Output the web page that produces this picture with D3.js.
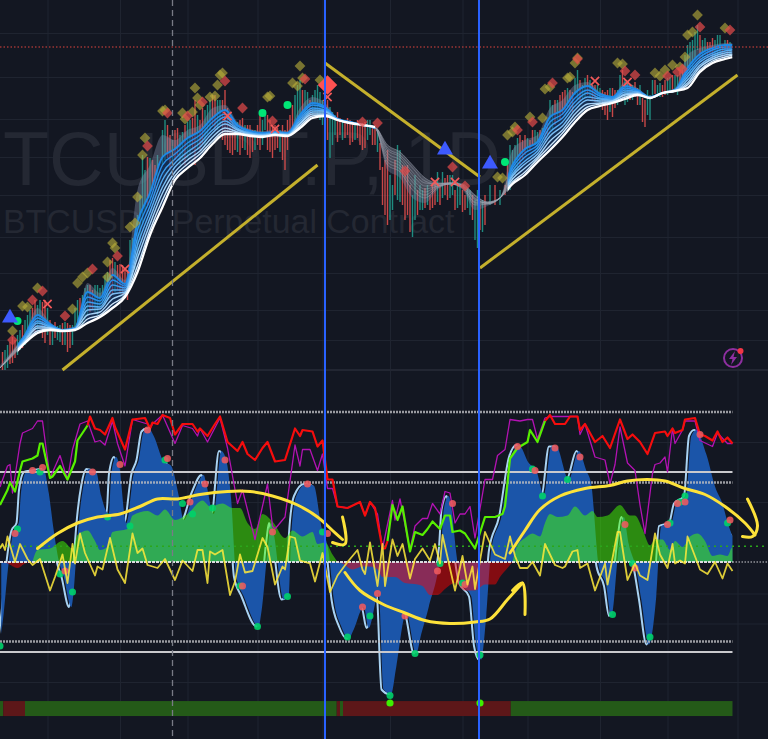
<!DOCTYPE html>
<html><head><meta charset="utf-8">
<script src="https://cdn.jsdelivr.net/npm/d3@7"></script>
<style>html,body{margin:0;padding:0;background:#131722;overflow:hidden}svg{display:block}</style>
</head><body><div id="chart"></div>
<script>
// ---------- text ----------
const symbolTitle = "TCUSDT.P, 1D";
const symbolSubtitle = "BTCUSDT Perpetual Contract";

// ---------- grid / levels ----------
const gridBars = [19,48,75,103,129,156,185,211,240,267,295];
const gridPrices = [537,493,451,413,375,333,297,260,230,200];
const gridOsc = [80,40,-21,-41,-80];
const lastPrice = 523;
const verticalBars = [130,191.6];
const cursorBar = 69;
const levelsDashed = [100,53,-53];
const levelsSolid = [60,-60];
const flowZero = 10.5;

// ---------- ribbon (EMA stack), prices in $100, one value per ribbonBars entry ----------
const ribbonBars = [...d3.range(0,295,5),293];
const emaCloud = [205,220,237,262,248,241,244,287,277,302,290,380,405,435,430,440,445,462,465,448,441,439,440,439,462,473,467,452,448,445,442,400,392,372,367,380,386,380,360,364,372,420,430,435,462,470,485,488,478,474,488,482,474,478,482,515,522,525,527,527];
const ema0 = [202,218,235,255,246,240,242,278,272,295,286,348,377,413,421,432,439,452,460,445,439,437,438,437,455,467,463,451,448,445,442,405,398,380,372,382,386,382,365,366,372,405,421,428,453,460,477,484,476,473,484,480,473,477,480,502,516,522,525,525];
const ema1 = [202,217,234,252,245,240,242,273,269,290,284,340,370,405,416,427,435,448,456,444,438,436,438,437,453,465,462,451,448,445,442,408,401,384,375,383,386,383,367,366,372,402,417,425,448,456,472,480,474,472,482,479,473,477,480,499,513,520,523,523];
const ema2 = [202,217,233,249,244,240,241,268,266,285,282,332,364,397,411,423,431,444,453,442,437,436,437,436,451,462,460,451,448,445,442,411,404,388,378,384,386,383,368,367,372,399,413,422,443,452,468,477,472,471,480,478,473,477,480,496,510,517,521,521];
const ema3 = [202,216,231,247,243,240,241,264,263,280,280,325,358,390,407,418,427,440,449,441,437,435,437,436,449,460,459,451,447,445,442,414,407,391,381,384,386,384,370,367,372,396,409,419,438,448,464,473,471,470,478,478,473,477,480,493,508,515,519,520];
const ema4 = [202,216,230,244,242,239,241,260,261,276,278,318,352,383,403,414,423,437,446,440,436,435,436,435,447,458,458,450,447,445,443,417,410,395,384,385,387,384,371,367,372,394,406,416,434,444,460,470,469,469,476,477,472,477,479,490,505,513,517,518];
const ema5 = [202,215,229,242,242,239,241,255,258,271,277,312,346,377,398,410,419,433,442,438,435,434,436,435,446,456,456,450,447,445,443,420,413,398,387,386,387,385,372,367,372,391,402,413,429,440,456,466,467,469,475,476,472,477,479,487,503,511,515,516];
const ema6 = [202,215,228,239,241,239,240,251,255,266,275,304,340,370,394,406,416,429,439,437,435,434,435,434,444,454,455,450,447,445,443,422,415,402,389,386,387,385,374,368,372,388,398,411,424,437,452,463,466,468,473,476,472,477,479,485,500,509,513,515];
const ema7 = [202,214,227,237,240,239,240,247,253,262,273,298,335,363,390,402,412,426,436,436,434,433,435,434,442,452,454,450,447,445,443,425,418,405,392,387,387,386,375,368,372,386,395,408,420,433,448,460,464,467,471,475,472,477,479,482,498,507,511,513];
const downRanges = [[0,7],[150,203]];
const upRanges = [[7,150],[203,293]];
const ribbonShades = ["#1e88e5","#2a90ec","#3c9cef","#58acf1","#7cbef4","#a4d2f7","#cee7fb","#ffffff"];

// ---------- candles: [bar, high, low, up] ----------
const candles = [[1,218,200,0],[3,225,202,1],[5,233,207,0],[6,230,212,0],[8,240,220,1],[10,250,225,1],[12,260,235,1],[14,270,235,0],[16,270,245,1],[18,270,227,0],[20,250,225,0],[21,245,225,1],[23,244,230,1],[25,247,225,0],[27,247,218,0],[29,245,225,1],[31,270,242,1],[33,275,245,1],[35,285,255,1],[37,280,260,0],[39,285,255,1],[41,285,265,1],[43,298,270,1],[45,312,275,0],[47,305,280,0],[49,305,275,0],[51,300,270,0],[52,330,285,1],[54,335,300,1],[56,375,330,1],[57,415,345,1],[59,413,365,0],[61,410,380,0],[63,415,390,1],[66,450,410,1],[68,435,400,0],[70,440,410,0],[72,435,405,1],[74,445,405,0],[76,450,415,1],[78,470,405,0],[80,450,420,0],[82,460,425,1],[84,470,440,1],[86,475,440,0],[88,470,445,1],[90,480,425,0],[92,453,417,0],[94,445,420,0],[96,450,415,0],[98,445,420,1],[100,445,412,0],[102,440,420,1],[104,455,420,0],[106,460,440,1],[107,455,420,0],[109,445,412,0],[111,442,422,0],[114,440,400,0],[116,455,435,0],[118,475,445,1],[120,490,450,1],[122,480,455,1],[125,475,455,1],[127,485,455,1],[129,470,445,1],[132,463,412,1],[134,455,435,1],[136,452,435,0],[138,450,432,0],[140,450,425,0],[142,448,430,1],[144,445,425,0],[146,448,422,0],[148,450,435,1],[150,445,425,0],[152,427,400,0],[153,403,365,0],[155,420,345,0],[157,385,360,1],[159,425,370,1],[161,405,365,0],[163,405,355,0],[165,375,333,1],[167,380,355,0],[169,380,360,1],[172,375,360,0],[174,390,365,0],[177,398,372,1],[179,395,370,0],[181,395,375,1],[182,380,360,0],[184,385,365,1],[186,375,360,0],[188,380,355,1],[190,370,330,1],[191,380,322,1],[192,365,340,0],[194,375,345,0],[196,385,365,1],[198,385,365,0],[200,380,365,1],[202,385,375,0],[204,425,380,1],[206,425,395,1],[208,435,405,0],[210,435,415,0],[212,430,420,0],[214,440,425,1],[216,440,420,0],[218,445,430,0],[220,470,440,1],[222,470,445,0],[224,475,450,0],[226,480,460,0],[228,480,460,0],[230,492,475,1],[231,500,470,1],[233,485,470,1],[235,495,475,0],[237,485,470,0],[239,485,470,1],[241,480,460,0],[243,480,450,0],[245,482,453,0],[247,480,465,1],[249,500,480,0],[250,490,465,1],[252,485,470,0],[254,488,473,0],[256,485,465,1],[258,470,443,0],[260,475,450,1],[261,490,475,1],[263,485,473,1],[265,485,473,0],[267,492,475,1],[269,495,478,0],[271,495,475,1],[273,500,482,0],[275,525,490,1],[277,530,500,1],[279,545,520,1],[280,535,510,0],[282,532,515,1],[284,528,515,0],[286,530,510,1],[288,535,515,1],[289,525,513,0],[290,530,520,1],[292,528,515,1],
[135,458,428,0],[137,448,430,1],[139,452,435,0],[141,445,428,0],[143,450,432,0],[145,447,420,0],[147,450,430,1],[149,442,425,0],[151,440,418,1],[154,410,355,0],[156,395,350,1],[158,410,375,0],[160,420,368,1],[162,395,350,0],[164,385,338,0],[166,395,350,1],[168,385,360,1],[170,382,362,0],[171,385,365,1],[173,385,362,0],[175,398,368,1],[176,385,365,0],[178,392,375,0],[180,395,372,1],[183,388,362,1],[185,380,358,0],[187,382,362,1],[189,375,350,0],[193,370,338,1],
[58,400,360,1],[60,412,372,1],[62,405,382,0],[65,440,405,1],[67,445,412,0],[69,430,405,1],[71,442,415,0],[73,438,410,1],[75,448,412,1],[77,452,420,0],[79,455,420,1],[81,462,425,0],[83,465,435,1],[85,475,445,0],[87,470,440,1],[89,470,430,0],[91,462,420,0],[93,450,415,0],[95,448,418,1],[97,452,422,0],[99,445,415,0],[101,440,418,0],[103,445,425,0],[105,450,425,1],[108,450,418,0],[110,445,420,0],[112,440,418,1],[113,445,410,0],[115,450,420,0],
[203,405,382,0],[205,420,385,1],[207,432,400,1],[209,430,410,0],[211,432,418,1],[213,440,425,0],[215,438,420,1],[217,442,428,1],[219,450,435,0],[221,465,440,1],[223,470,450,1],[225,478,455,0],[227,482,462,1],[229,478,458,0],[232,490,470,0],[234,492,472,1],[236,490,472,1],[238,485,468,0],[240,482,465,1],[242,478,455,0],[244,482,458,1],[246,480,462,0],[248,495,470,1],[251,488,468,1],[253,485,470,1],[255,482,465,0],[257,472,448,0],[259,480,455,1],
[2,220,200,1],[4,228,206,0],[7,235,215,1],[9,245,222,0],[11,255,228,1],[13,262,238,0],[15,265,240,1],[17,268,232,0],[19,262,235,1],[22,248,232,0],[24,245,228,1],[26,248,225,1],[28,245,222,0],[30,262,240,1],[32,272,245,0],[34,282,250,1],[36,285,258,0],[38,285,258,1],[40,282,262,1],[42,295,265,1],[44,310,272,0],[46,308,278,1],[48,306,278,0],[50,302,272,0],[53,332,290,1],[55,355,310,1],
[262,490,476,0],[264,487,473,1],[266,490,475,0],[268,493,477,1],[270,495,478,1],[272,498,480,0],[274,515,485,1],[276,528,495,1],[278,538,510,1],[281,530,512,1],[283,528,513,0],[285,532,512,0],[287,535,514,1],[291,530,515,0],[117,465,440,0],[119,485,450,1],[121,480,452,0],[123,478,455,1],[124,470,452,0],[126,480,458,1],[128,478,450,1],[130,468,440,1],[131,470,430,0],[133,458,425,1]];

// ---------- price pane markers: [bar, price] ----------
const oliveDiamonds = [[5,239],[9,264],[11,263],[15,282],[29,261],[31,287],[33,293],[35,297],[43,293],[43,308],[45,327],[46,322],[52,343],[54,347],[55,373],[57,415],[58,432],[65,459],[66,460],[73,457],[74,451],[77,458],[78,482],[79,472],[80,465],[84,473],[86,474],[87,485],[89,497],[88,495],[107,473],[108,474],[117,487],[119,484],[121,492],[120,504],[128,490],[199,393],[201,392],[203,435],[205,438],[206,443],[212,453],[217,452],[218,481],[220,483],[227,492],[228,493],[230,507],[231,512],[247,507],[249,506],[262,497],[264,494],[266,500],[269,505],[272,503],[274,513],[275,535],[277,538],[279,555],[290,542]];
const redDiamonds = [[5,230],[13,270],[17,279],[26,254],[37,301],[47,314],[59,424],[67,457],[75,454],[81,468],[90,489],[97,462],[109,449],[122,491],[145,448],[151,447],[162,399],[181,403],[186,384],[207,440],[213,448],[221,487],[231,511],[250,499],[254,495],[267,494],[271,498],[273,501],[280,543],[292,540]];
const bigDiamond = [[131,485]];
const crossMarks = [[19,266],[50,301],[91,454],[110,441],[131,473],[174,388],[182,388],[238,489],[251,488]];
const greenMarks = [[7,249],[105,457],[115,465],[202,408]];
const triangleMarks = [[4,252],[178,420],[196,406]];
// trend lines [[bar,price],[bar,price]]
const trendLines = [[[25,200],[127,405]],[[130,507],[192,393]],[[192,302],[295,495]]];

// ---------- oscillator pane: [bar, value] ----------
const wave = [[0,-48],[1,-34],[3,0],[5,21],[7,26],[8,48],[10,60],[13,61],[17,62],[19,46],[21,21],[23,1],[25,-10],[28,-30],[29,-19],[30,4],[31,26],[33,52],[35,62],[38,60],[40,44],[43,32],[44,59],[46,70],[47,66],[50,26],[53,59],[55,68],[57,87],[59,89],[61,84],[65,67],[68,64],[71,44],[73,28],[77,46],[81,58],[82,52],[85,32],[88,74],[90,68],[92,41],[94,-10],[97,-23],[103,-43],[104,-34],[107,15],[108,26],[109,19],[113,-25],[115,-23],[116,19],[118,44],[122,52],[125,51],[128,24],[131,6],[133,-25],[136,-43],[139,-51],[141,-45],[145,-30],[147,-44],[151,-21],[153,-85],[156,-88],[158,-70],[162,-34],[166,-61],[168,-48],[171,-30],[176,10],[177,35],[179,44],[180,37],[182,6],[184,-14],[188,-23],[190,-56],[192,-65],[194,-36],[196,8],[200,30],[204,70],[207,78],[211,66],[214,61],[217,45],[220,77],[222,77],[227,55],[231,74],[234,61],[236,52],[239,-3],[242,-16],[244,-36],[247,10],[249,30],[251,12],[254,-5],[256,-25],[259,-55],[262,-23],[264,24],[268,26],[270,39],[274,44],[276,84],[278,88],[282,72],[286,48],[288,41],[291,24],[293,17]];
const signal = [[0,9],[1,12],[2,8],[3,17],[6,0],[8,12],[11,2],[13,-2],[16,2],[20,-19],[22,-10],[25,5],[27,-14],[29,12],[30,-1],[32,19],[34,6],[38,-9],[39,-3],[41,-5],[44,16],[47,-5],[50,-14],[53,19],[55,6],[57,9],[59,-2],[63,-4],[66,2],[70,-12],[73,1],[77,-6],[79,8],[81,8],[83,-14],[84,7],[86,5],[89,8],[92,-22],[94,-13],[96,5],[98,-7],[101,-6],[105,16],[107,10],[110,-15],[113,-3],[114,-5],[116,17],[118,16],[120,1],[124,-1],[126,-13],[129,6],[132,-20],[135,-9],[139,0],[143,8],[145,-5],[146,-8],[148,13],[151,-16],[153,12],[154,-16],[157,15],[159,4],[161,12],[164,-11],[166,2],[169,9],[172,1],[174,12],[176,-1],[177,18],[182,-19],[185,4],[187,-15],[189,-3],[190,-18],[194,20],[198,5],[202,2],[204,17],[206,4],[208,-4],[211,-4],[213,0],[216,-9],[218,12],[222,-2],[225,-4],[226,-3],[229,7],[231,8],[232,-4],[235,-1],[238,-19],[242,-1],[243,-15],[247,20],[248,20],[251,-12],[254,-1],[256,-9],[259,-12],[262,19],[264,5],[267,-4],[269,12],[270,-1],[272,1],[274,-1],[275,17],[280,-5],[283,-8],[286,0],[289,-11],[291,-1],[293,-6]];
const rsiGreenA = [[0,38],[3,48],[4,53],[6,47],[8,61],[9,67],[13,69],[15,71],[16,79],[17,79],[20,56],[21,57],[24,64],[27,55],[30,67],[31,81],[35,91]];
const rsiRedA = [[35,91],[36,97],[38,89],[40,88],[42,85],[45,96],[46,90],[50,75],[53,95],[58,96],[60,89],[61,93],[63,92],[65,98],[68,96],[70,85],[73,92],[77,92],[79,87],[80,89],[83,84],[86,92],[88,97],[91,80],[95,74],[97,80],[99,72],[102,68],[105,76],[107,80],[110,67],[114,68],[118,89],[120,84],[121,88],[125,87],[127,77],[129,81],[131,55],[133,55],[135,37],[139,36],[144,40],[146,31],[148,40],[150,36],[153,9],[154,9],[155,14]];
const rsiGreenB = [[155,14],[157,38],[159,28],[161,37],[164,7],[166,20],[169,18],[171,22],[173,27],[176,22],[178,31],[180,31],[181,20],[184,21],[186,19],[190,9],[194,30],[198,30],[201,32],[202,37],[204,69],[207,76],[211,80],[212,88],[215,80],[218,94]];
const rsiRedB = [[218,94],[220,98],[222,92],[226,92],[228,97],[231,97],[232,88],[234,92],[238,80],[241,84],[244,76],[248,95],[251,82],[253,85],[256,80],[259,72],[262,86],[266,87],[267,84],[269,89],[270,86],[273,88],[274,95],[278,96],[280,85],[282,84],[285,81],[287,87],[289,80],[291,83],[293,79]];
const stoch = [[0,50],[3,64],[4,65],[5,46],[8,79],[9,86],[13,89],[15,94],[17,94],[20,56],[24,71],[27,55],[29,75],[32,92],[35,94],[38,80],[40,81],[42,78],[45,94],[47,79],[50,64],[53,95],[59,92],[60,89],[61,92],[65,98],[70,79],[73,91],[77,89],[79,84],[80,89],[83,80],[88,96],[91,76],[95,39],[97,48],[102,15],[107,52],[109,24],[110,22],[114,30],[118,78],[120,64],[121,75],[124,75],[127,61],[129,72],[131,49],[133,49],[135,37],[139,36],[144,40],[146,31],[148,40],[151,32],[153,9],[157,41],[158,28],[160,42],[164,8],[166,24],[169,29],[171,29],[173,39],[176,32],[178,47],[180,46],[182,26],[184,32],[186,32],[188,37],[190,16],[194,55],[197,55],[199,71],[202,75],[204,95],[208,94],[211,95],[213,95],[215,82],[218,96],[220,97],[231,97],[232,85],[234,92],[238,70],[242,68],[244,52],[246,65],[248,90],[251,66],[254,61],[256,38],[258,19],[261,59],[262,65],[264,66],[266,70],[267,60],[269,89],[270,79],[273,88],[274,94],[278,94],[280,81],[285,77],[287,86],[291,79],[293,79]];
const flowGreenA = [[13,0],[15,8],[20,9],[25,14],[29,9],[31,18],[35,21],[38,14],[40,8],[43,10],[45,20],[51,22],[53,31],[59,34],[63,31],[66,35],[70,28],[75,32],[81,41],[84,37],[89,39],[93,36],[96,36],[99,26],[102,22],[105,32],[109,27],[114,16],[117,21],[121,17],[125,20],[127,12],[130,13],[133,5],[135,0]];
const flowGreenB = [[205,0],[207,11],[210,16],[213,19],[216,17],[218,26],[220,32],[223,30],[227,31],[230,37],[234,31],[237,34],[239,30],[243,31],[248,38],[252,31],[254,31],[257,22],[260,11],[262,15],[265,15],[268,8],[270,14],[273,10],[276,17],[279,19],[282,14],[285,4],[288,5],[291,4],[293,10],[293,0]];
const flowRedA = [[0,0],[3,-1],[7,-4],[10,-1],[13,0]];
const flowRedB = [[135,0],[137,-1],[141,-5],[145,-3],[148,-3],[151,-5],[153,-10],[158,-10],[162,-14],[167,-15],[169,-16],[172,-22],[175,-22],[178,-18],[182,-14],[186,-19],[190,-19],[194,-15],[198,-15],[200,-10],[203,-4],[205,0]];
const dotsRed = [[13,61],[17,63],[37,60],[48,65],[59,88],[67,69],[76,40],[82,52],[90,68],[97,-16],[109,20],[123,52],[131,19],[145,-30],[151,-21],[6,19],[26,-6],[162,-36],[175,-6],[181,39],[186,-15],[207,77],[214,61],[222,76],[232,70],[250,25],[254,-4],[267,25],[271,39],[274,40],[280,85],[292,28]];
const dotsGreen = [[0,-56],[7,22],[16,60],[24,-8],[29,-20],[43,30],[52,24],[66,68],[73,39],[77,32],[85,36],[96,-16],[103,-43],[115,-23],[129,20],[139,-50],[148,-36],[156,-89],[166,-61],[176,-1],[185,-14],[192,-62],[213,62],[217,44],[227,55],[245,-35],[253,-1],[260,-50],[268,26],[272,40],[274,44],[291,26]];
const dotsLime = [[156,-94],[192,-94]];
// state strip: [fromBar, toBar, state]
const stateStrip = [[0,1.3,1],[1.3,10,0],[10,134.7,1],[134.7,136,0],[136,137.2,1],[137.2,204.3,0],[204.3,293,1]];
const stripTop = -92.7, stripBottom = -102.7;
// hand-drawn annotations on the oscillator
const sketchA = [[15,9],[23,19],[31,26],[39,30],[48,32],[56,37],[63,42],[71,42],[80,45],[91,47],[100,47],[109,44],[119,38],[127,30],[133,21],[137,15]];
const sketchAHead = [[137,30],[138,12],[133,13]];
const sketchB = [[138,-7],[144,-19],[153,-28],[162,-34],[170,-39],[180,-41],[190,-40],[196,-38],[203,-25],[209,-14]];
const sketchBHead = [[205,-19],[209,-14],[210,-35]];
const sketchC = [[204,6],[210,21],[216,35],[224,44],[234,49],[244,51],[251,54],[259,55],[266,54],[274,49],[282,45],[290,37],[298,26],[302,18]];
const sketchCHead = [[299,42],[303,24],[301,17],[297,17]];

// ---------- scales ----------
const W = 768, H = 739;
const xBar = d3.scaleLinear().domain([0,307.2]).range([0,W]);
const yPrice = d3.scaleLinear().domain([570,200]).range([0,370]);
const yOsc = d3.scaleLinear().domain([100,-120]).range([412,742]);
const lastBar = 293;

const svg = d3.select("#chart").append("svg").attr("width",W).attr("height",H).attr("viewBox",[0,0,W,H]);
svg.append("rect").attr("width",W).attr("height",H).attr("fill","#131722");
const defs = svg.append("defs");
function clip(id, ranges){
  const c = defs.append("clipPath").attr("id",id);
  ranges.forEach(r=>c.append("rect").attr("x",xBar(r[0])).attr("width",xBar(r[1])-xBar(r[0])).attr("y",0).attr("height",370));
}
clip("upClip",upRanges); clip("downClip",downRanges);

// ---------- grid via axes ----------
const gridColor = "#1f2430";
function styleGrid(g){ g.selectAll(".domain").remove(); g.selectAll("text").remove(); g.selectAll("line").attr("stroke",gridColor).attr("stroke-width",1); }
svg.append("g").call(d3.axisBottom(xBar).tickValues(gridBars).tickSize(H).tickFormat("")).call(styleGrid);
svg.append("g").call(d3.axisRight(yPrice).tickValues(gridPrices).tickSize(W).tickFormat("")).call(styleGrid);
svg.append("g").call(d3.axisRight(yOsc).tickValues(gridOsc).tickSize(W).tickFormat("")).call(styleGrid);
svg.append("line").attr("x1",0).attr("x2",W).attr("y1",yPrice(200)).attr("y2",yPrice(200)).attr("stroke","#222632").attr("stroke-width",2);

// ---------- watermark ----------
svg.append("text").attr("x",3).attr("y",185).attr("font-family","Liberation Sans, Arial, sans-serif").attr("font-size",75.5).attr("fill","#242833").text(symbolTitle);
svg.append("text").attr("x",3).attr("y",233).attr("font-family","Liberation Sans, Arial, sans-serif").attr("font-size",33.9).attr("fill","#242833").text(symbolSubtitle);

// ---------- candles ----------
svg.append("g").selectAll("line").data(candles).join("line")
  .attr("x1",d=>xBar(d[0])).attr("x2",d=>xBar(d[0]))
  .attr("y1",d=>yPrice(d[1])).attr("y2",d=>yPrice(d[2]))
  .attr("stroke",d=>d[3]?"#22a091":"#e8504e").attr("stroke-width",1.4).attr("stroke-opacity",.85);

// ---------- ribbon ----------
const emaLines = [ema0,ema1,ema2,ema3,ema4,ema5,ema6,ema7];
const zipRow = arr => arr.map((v,i)=>[ribbonBars[i],v]);
const lineP = d3.line().x(d=>xBar(d[0])).y(d=>yPrice(d[1])).curve(d3.curveMonotoneX);
const bandPath = (a,b) => d3.area().x((v,i)=>xBar(ribbonBars[i])).y0((v,i)=>yPrice(b[i])).y1(v=>yPrice(v)).curve(d3.curveMonotoneX)(a);
const upG = svg.append("g").attr("clip-path","url(#upClip)");
const downG = svg.append("g").attr("clip-path","url(#downClip)");
upG.append("path").attr("d",bandPath(emaCloud,ema0)).attr("fill","#7f8aa8").attr("fill-opacity",.42);
downG.append("path").attr("d",bandPath(emaCloud,ema0)).attr("fill","#7f8aa8").attr("fill-opacity",.35);
for(let i=0;i<7;i++){
  upG.append("path").attr("d",bandPath(emaLines[i],emaLines[i+1])).attr("fill","#16407a").attr("fill-opacity",.55);
  downG.append("path").attr("d",bandPath(emaLines[i],emaLines[i+1])).attr("fill","#8a90a0").attr("fill-opacity",.42);
}
emaLines.forEach((arr,i)=>{
  upG.append("path").datum(zipRow(arr)).attr("d",lineP).attr("fill","none").attr("stroke",ribbonShades[i])
    .attr("stroke-width",i===0?2:i===7?2.3:1.4);
  downG.append("path").datum(zipRow(arr)).attr("d",lineP).attr("fill","none").attr("stroke","#a0a6b4").attr("stroke-opacity",.5).attr("stroke-width",1);
});

// ---------- markers ----------
const pX = d=>xBar(d[0]), pY = d=>yPrice(d[1]);
svg.append("g").selectAll("line").data(trendLines).join("line")
  .attr("x1",d=>xBar(d[0][0])).attr("y1",d=>yPrice(d[0][1])).attr("x2",d=>xBar(d[1][0])).attr("y2",d=>yPrice(d[1][1]))
  .attr("stroke","#c4b02c").attr("stroke-width",3);
function diamonds(data,size,fill,op){
  svg.append("g").selectAll("path").data(data).join("path")
    .attr("d",d3.symbol(d3.symbolSquare,size)).attr("transform",d=>`translate(${pX(d)},${pY(d)}) rotate(45)`)
    .attr("fill",fill).attr("fill-opacity",op);
}
diamonds(oliveDiamonds,58,"#b8ae3a",.62);
diamonds(redDiamonds,58,"#e04a4a",.72);
diamonds(bigDiamond,190,"#ff5252",1);
svg.append("g").selectAll("path").data(crossMarks).join("path")
  .attr("d",d3.symbol(d3.symbolX,46)).attr("transform",d=>`translate(${pX(d)},${pY(d)})`)
  .attr("fill","none").attr("stroke","#f45a5a").attr("stroke-width",1.7);
svg.append("g").selectAll("circle").data(greenMarks).join("circle")
  .attr("cx",pX).attr("cy",pY).attr("r",4).attr("fill","#00e676");
svg.append("g").selectAll("path").data(triangleMarks).join("path")
  .attr("d",d3.symbol(d3.symbolTriangle,110)).attr("transform",d=>`translate(${pX(d)},${pY(d)})`).attr("fill","#3d5afe");
svg.append("line").attr("x1",0).attr("x2",W).attr("y1",yPrice(lastPrice)).attr("y2",yPrice(lastPrice))
  .attr("stroke","#e0443e").attr("stroke-width",1).attr("stroke-dasharray","1.5 2");

// icon
const icon = svg.append("g").attr("transform","translate(733,358)");
icon.append("circle").attr("r",9).attr("fill","none").attr("stroke","#8e2fa0").attr("stroke-width",2);
icon.append("path").attr("d","M2,-7 L-4,1 L-0.5,1 L-2,7 L4,-1 L0.5,-1 Z").attr("fill","#8e2fa0");
icon.append("circle").attr("cx",7.5).attr("cy",-7).attr("r",3).attr("fill","#f23645");

// ---------- oscillator ----------
const oX = d=>xBar(d[0]), oY = d=>yOsc(d[1]);
const zeroY = yOsc(0);
// leading line sits under the lagging filled wave
svg.append("path").datum(wave).attr("d",d3.line().x(d=>xBar(d[0]-0.4)).y(oY).curve(d3.curveMonotoneX))
  .attr("fill","none").attr("stroke","#a9d3f3").attr("stroke-width",2);
svg.append("path").datum(wave).attr("d",d3.area().x(d=>xBar(Math.min(d[0]+0.5,lastBar))).y0(zeroY).y1(oY).curve(d3.curveMonotoneX))
  .attr("fill","#1b55a9");
const flowArea = d3.area().x(oX).y0(zeroY).y1(oY).curve(d3.curveMonotoneX);
[flowGreenA,flowGreenB].forEach(a=>svg.append("path").datum(a).attr("d",flowArea).attr("fill","#46ff00").attr("fill-opacity",.5));
[flowRedA,flowRedB].forEach(a=>svg.append("path").datum(a).attr("d",flowArea).attr("fill","#ff0000").attr("fill-opacity",.48));

// levels
const gLv = svg.append("g");
levelsDashed.forEach(v=>gLv.append("line").attr("x1",0).attr("x2",xBar(lastBar)).attr("y1",yOsc(v)).attr("y2",yOsc(v)).attr("stroke","#bdbdc2").attr("stroke-opacity",.8).attr("stroke-width",2.4).attr("stroke-dasharray","2 1"));
levelsSolid.forEach(v=>gLv.append("line").attr("x1",0).attr("x2",xBar(lastBar)).attr("y1",yOsc(v)).attr("y2",yOsc(v)).attr("stroke","#c9c9cd").attr("stroke-width",2));
gLv.append("line").attr("x1",xBar(lastBar)).attr("x2",W).attr("y1",zeroY).attr("y2",zeroY).attr("stroke","#d0d0d4").attr("stroke-width",1).attr("stroke-dasharray","1.5 1.5");
gLv.append("line").attr("x1",0).attr("x2",xBar(lastBar)).attr("y1",zeroY).attr("y2",zeroY).attr("stroke","#dcdce0").attr("stroke-width",2).attr("stroke-dasharray","3 1");
gLv.append("line").attr("x1",0).attr("x2",W).attr("y1",yOsc(flowZero)).attr("y2",yOsc(flowZero)).attr("stroke","#2ba61a").attr("stroke-width",1.5).attr("stroke-dasharray","2 4");

const lineO = d3.line().x(oX).y(oY);
svg.append("path").datum(stoch).attr("d",lineO).attr("fill","none").attr("stroke","#b312b3").attr("stroke-width",1.3).attr("stroke-linejoin","round");
[rsiRedA,rsiRedB].forEach(a=>svg.append("path").datum(a).attr("d",lineO).attr("fill","none").attr("stroke","#f50d0d").attr("stroke-width",2.2).attr("stroke-linejoin","round"));
[rsiGreenA,rsiGreenB].forEach(a=>svg.append("path").datum(a).attr("d",lineO).attr("fill","none").attr("stroke","#57f000").attr("stroke-width",2.2).attr("stroke-linejoin","round"));

function dots(data,fill,r,op){ svg.append("g").selectAll("circle").data(data).join("circle").attr("cx",oX).attr("cy",oY).attr("r",r).attr("fill",fill).attr("fill-opacity",op); }
dots(dotsGreen,"#00d26a",3.5,.9);
dots(dotsRed,"#ef5a5f",3.5,.88);

svg.append("path").datum(signal).attr("d",lineO).attr("fill","none").attr("stroke","#ffea3b").attr("stroke-opacity",.85).attr("stroke-width",1.8).attr("stroke-linejoin","round");

// state strip
svg.append("g").selectAll("rect").data(stateStrip).join("rect")
  .attr("x",d=>xBar(d[0])).attr("width",d=>xBar(d[1])-xBar(d[0]))
  .attr("y",yOsc(stripTop)).attr("height",yOsc(stripBottom)-yOsc(stripTop))
  .attr("fill",d=>d[2]?"#245a18":"#5d1719");
dots(dotsLime,"#3cf000",3.6,1);

// hand-drawn sketches
const sketch = d3.line().x(oX).y(oY).curve(d3.curveCatmullRom);
[[sketchA,sketchAHead],[sketchB,sketchBHead],[sketchC,sketchCHead]].forEach(([c,h])=>{
  svg.append("path").datum(c).attr("d",sketch).attr("fill","none").attr("stroke","#fde23a").attr("stroke-width",3).attr("stroke-linecap","round");
  svg.append("path").datum(h).attr("d",sketch).attr("fill","none").attr("stroke","#fde23a").attr("stroke-width",3).attr("stroke-linecap","round");
});

// ---------- vertical guides ----------
svg.append("line").attr("x1",xBar(cursorBar)).attr("x2",xBar(cursorBar)).attr("y1",0).attr("y2",H).attr("stroke","#787b86").attr("stroke-width",1.3).attr("stroke-dasharray","6 4");
svg.append("g").selectAll("line").data(verticalBars).join("line")
  .attr("x1",d=>xBar(d)).attr("x2",d=>xBar(d)).attr("y1",0).attr("y2",H).attr("stroke","#2962ff").attr("stroke-width",2);
</script></body></html>
